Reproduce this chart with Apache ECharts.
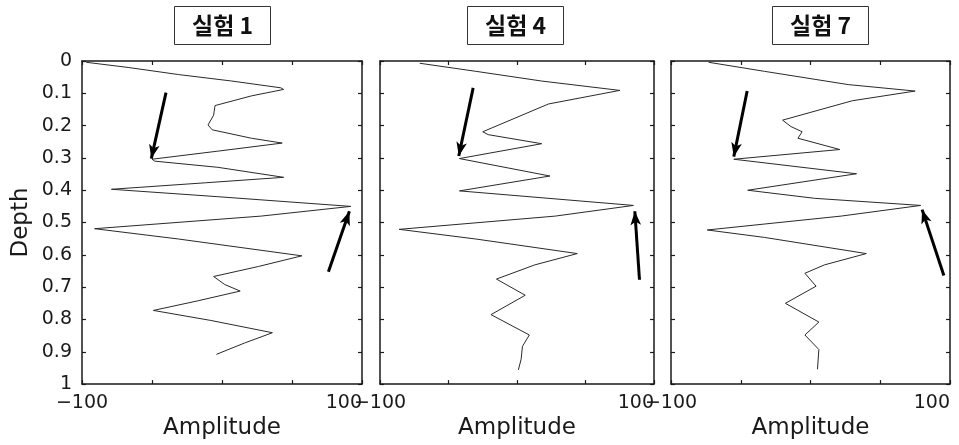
<!DOCTYPE html>
<html><head><meta charset="utf-8">
<script src="https://cdn.jsdelivr.net/npm/echarts@6/dist/echarts.min.js"></script>
<style>html,body{margin:0;padding:0;background:#fff}#c{width:959px;height:445px}</style>
</head><body><div id="c"></div>
<script>
// ---- data ----
const panelTitles = ['실험 1', '실험 4', '실험 7'];
const xAxisTitle = 'Amplitude';
const yAxisTitle = 'Depth';

const depth1 = [0.004,0.02,0.042,0.062,0.083,0.088,0.108,0.138,0.168,0.198,0.213,0.239,0.254,0.258,0.279,0.304,0.31,0.329,0.36,0.377,0.397,0.42,0.45,0.48,0.519,0.551,0.603,0.636,0.667,0.692,0.712,0.742,0.772,0.803,0.841,0.873,0.908];
const amp1   = [-97,-67,-31,7,42,44,21,-5,-6,-10,-7,21,43,44,-3,-50,-48,-3,44,-12,-79,-3,92,28,-91,-31,57,26,-6,2,13,-17,-49,-8,36,16,-4];

const depth2 = [0.007,0.032,0.062,0.091,0.133,0.219,0.228,0.256,0.302,0.356,0.402,0.447,0.48,0.521,0.551,0.596,0.631,0.675,0.725,0.785,0.848,0.883,0.923,0.956];
const amp2   = [-71,-30,18,75,23,-25,-21,18,-42,24,-42,85,28,-86,-30,44,13,-15,6,-19,9,4,3,1];

const depth3 = [0.004,0.032,0.073,0.093,0.123,0.183,0.203,0.219,0.239,0.274,0.304,0.349,0.4,0.425,0.447,0.48,0.523,0.546,0.596,0.631,0.657,0.697,0.75,0.808,0.848,0.893,0.954];
const amp3   = [-73,-33,27,75,30,-20,-14,-6,-9,21,-55,33,-45,3,79,22,-74,-33,40,10,-4,4,-18,6,-4,6,5];

// arrows: [tail [amp, depth], head [amp, depth]]
const arrows1 = [[[-40, 0.098], [-50.5, 0.302]], [[76, 0.652], [91, 0.465]]];
const arrows2 = [[[-32, 0.083], [-42.5, 0.294]], [[89.4, 0.677], [86, 0.465]]];
const arrows3 = [[[-45.4, 0.093], [-55, 0.296]], [[95.6, 0.664], [80, 0.46]]];

const ampMin = -100, ampMax = 100, ampStep = 50;
const depthMin = 0, depthMax = 1, depthStep = 0.1;

// ---- chart ----
const depths = [depth1, depth2, depth3];
const amps = [amp1, amp2, amp3];
const arrows = [arrows1, arrows2, arrows3];

const grids = [
  {left: 82, top: 61, width: 280, height: 331},
  {left: 380, top: 61, width: 274, height: 331},
  {left: 671, top: 61, width: 279, height: 331}
];
const titleLefts = [174, 467, 772];
const ink = '#1a1a1a';
const font = 'DejaVu Sans';

const lineCommon = {show: true, onZero: false, lineStyle: {color: ink, width: 1.5}};
const tickCommon = {show: true, inside: true, length: 4, lineStyle: {color: ink, width: 1.2}};

const xAxes = [], yAxes = [], series = [], titles = [];
for (let i = 0; i < 3; i++) {
  titles.push({
    text: panelTitles[i], left: titleLefts[i], top: 6,
    borderColor: '#333', borderWidth: 1, padding: [8, 18],
    textStyle: {fontFamily: 'Noto Sans CJK KR', fontWeight: 'bold', fontSize: 23, color: '#111'}
  });
  xAxes.push({
    type: 'value', gridIndex: i, position: 'bottom', min: ampMin, max: ampMax, interval: ampStep,
    axisLine: lineCommon, axisTick: tickCommon, splitLine: {show: false},
    axisLabel: {
      show: true, margin: 9, fontFamily: font, fontSize: 19, color: ink,
      alignMinLabel: 'center', alignMaxLabel: 'right',
      formatter: v => v === ampMin ? '\u2212100' : (v === ampMax ? '100' : '')
    },
    name: xAxisTitle, nameLocation: 'middle', nameGap: 29,
    nameTextStyle: {fontFamily: font, fontSize: 23, color: ink}
  });
  xAxes.push({
    type: 'value', gridIndex: i, position: 'top', min: ampMin, max: ampMax, interval: ampStep,
    axisLine: lineCommon, axisTick: tickCommon, splitLine: {show: false}, axisLabel: {show: false}
  });
  yAxes.push(Object.assign({
    type: 'value', gridIndex: i, position: 'left', inverse: true,
    min: depthMin, max: depthMax, interval: depthStep,
    axisLine: lineCommon, axisTick: tickCommon, splitLine: {show: false},
    axisLabel: {show: i === 0, margin: 10, fontFamily: font, fontSize: 19, color: ink}
  }, i === 0 ? {
    name: yAxisTitle, nameLocation: 'middle', nameGap: 49, nameRotate: 90,
    nameTextStyle: {fontFamily: font, fontSize: 23, color: ink}
  } : {}));
  yAxes.push({
    type: 'value', gridIndex: i, position: 'right', inverse: true,
    min: depthMin, max: depthMax, interval: depthStep,
    axisLine: lineCommon, axisTick: tickCommon, splitLine: {show: false}, axisLabel: {show: false}
  });
  series.push({
    type: 'line', xAxisIndex: i * 2, yAxisIndex: i * 2,
    data: depths[i].map((d, k) => [amps[i][k], d]),
    showSymbol: false, symbol: 'none', smooth: false,
    lineStyle: {color: '#2a2a2a', width: 1},
    animation: false,
    markLine: {
      silent: true, animation: false,
      symbol: ['none', 'arrow'], symbolSize: [8, 14],
      label: {show: false},
      lineStyle: {color: '#000', width: 3, type: 'solid'},
      data: arrows[i].map(a => [{coord: a[0]}, {coord: a[1]}])
    }
  });
}

const chart = echarts.init(document.getElementById('c'), null, {renderer: 'canvas'});
chart.setOption({
  backgroundColor: '#fff',
  animation: false,
  title: titles,
  grid: grids,
  xAxis: xAxes,
  yAxis: yAxes,
  series: series
});
</script>
</body></html>
